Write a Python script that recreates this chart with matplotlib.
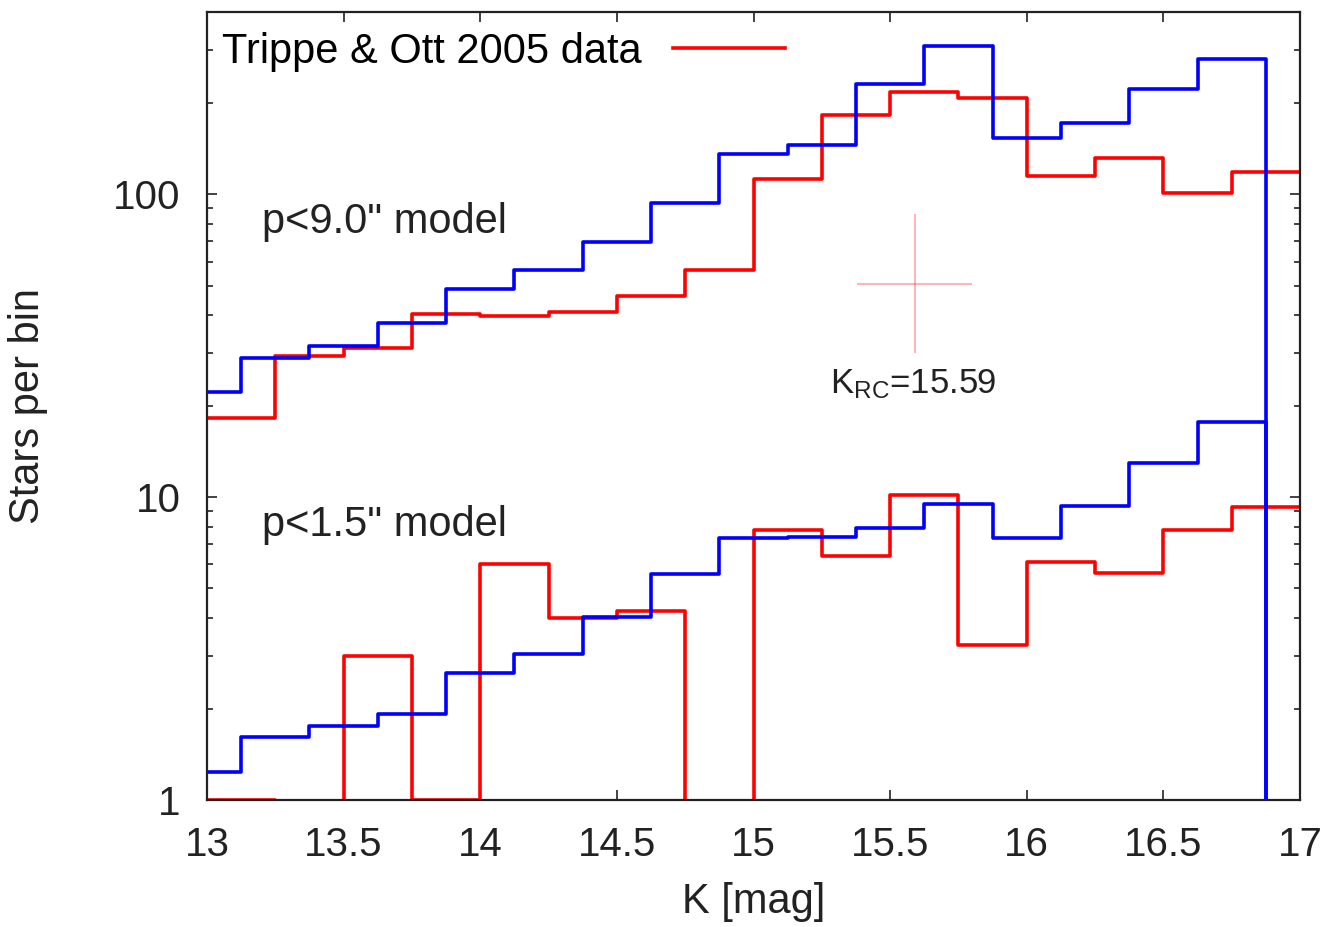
import numpy as np
import matplotlib
matplotlib.use('Agg')
import matplotlib.pyplot as plt
from matplotlib.ticker import LogLocator, NullFormatter, FixedLocator

plt.rcParams['font.family'] = ['Liberation Sans', 'DejaVu Sans']
plt.rcParams['mathtext.fontset'] = 'custom'
plt.rcParams['mathtext.rm'] = 'Liberation Sans'
plt.rcParams['mathtext.it'] = 'Liberation Sans'

# K-band luminosity function, 0.25 mag bins (left edges)
k_model = [12.875, 13.125, 13.375, 13.625, 13.875, 14.125, 14.375, 14.625, 14.875,
           15.125, 15.375, 15.625, 15.875, 16.125, 16.375, 16.625, 16.875]
n_model_9 = [22.3, 28.9, 31.5, 37.7, 48.8, 56.2, 69.4, 93.4, 135.6,
             145.6, 231, 308, 153, 172.6, 223.5, 279.5, 0]
n_model_15 = [1.24, 1.62, 1.75, 1.93, 2.62, 3.03, 4.01, 5.59, 7.33,
              7.40, 7.91, 9.49, 7.33, 9.33, 13.0, 17.7, 0]

k_data = [13.0, 13.25, 13.5, 13.75, 14.0, 14.25, 14.5, 14.75,
          15.0, 15.25, 15.5, 15.75, 16.0, 16.25, 16.5, 16.75]
n_data_9 = [18.3, 29.2, 31.1, 40.4, 39.6, 41.0, 46.1, 56.2,
            112, 182.5, 218, 208, 115, 132, 101, 118.5]
n_data_15 = [1.0, 0, 3.0, 1.0, 6.0, 4.0, 4.2, 0,
             7.8, 6.4, 10.2, 3.25, 6.1, 5.6, 7.8, 9.3]

BIN = 0.25
rc_k, rc_n = 15.59, 50.7
rc_kerr = 0.21
rc_lo, rc_hi = 30.0, 86.0

RED = '#ff0000'
BLUE = '#0000ff'
LW = 2.6
FS = 30


def steps(ax, left, vals, **kw):
    x = list(left) + [left[-1] + BIN]
    y = list(vals) + [vals[-1]]
    return ax.step(x, y, where='post', **kw)


fig = plt.figure(figsize=(13.32, 9.27), dpi=100)
ax = fig.add_axes([0.1554, 0.137, 0.8206, 0.850])
ax.set_yscale('log', nonpositive='clip')

steps(ax, k_data, n_data_9, color=RED, lw=LW, label='Trippe & Ott 2005 data')
steps(ax, k_data, n_data_15, color=RED, lw=LW)
steps(ax, k_model, n_model_9, color=BLUE, lw=LW)
steps(ax, k_model, n_model_15, color=BLUE, lw=LW)

# red clump position
ax.errorbar(rc_k, rc_n, xerr=rc_kerr, yerr=[[rc_n - rc_lo], [rc_hi - rc_n]],
            fmt='none', ecolor=RED, alpha=0.35, elinewidth=1.2, capsize=0)
ax.text(15.28, 22.1, r'K$_{\mathrm{RC}}$=15.59', fontsize=25, color='#222222',
        ha='left', va='baseline')

ax.text(13.2, 81, 'p<9.0" model', fontsize=FS, color='#222222', ha='left', va='center')
ax.text(13.2, 8.1, 'p<1.5" model', fontsize=FS, color='#222222', ha='left', va='center')

ax.set_xlim(13, 17)
ax.set_ylim(1, 400)

xt = np.arange(13, 17.01, 0.5)
ax.set_xticks(xt)
ax.set_xticklabels(['%g' % v for v in xt])
ax.yaxis.set_major_locator(FixedLocator([1, 10, 100]))
ax.set_yticklabels(['1', '10', '100'])
ax.yaxis.set_minor_locator(LogLocator(base=10, subs=np.arange(2, 10)))
ax.yaxis.set_minor_formatter(NullFormatter())

ax.tick_params(which='both', direction='in', top=True, right=True,
               colors='#222222', labelsize=29, width=1.2)
ax.tick_params(which='major', length=7)
ax.tick_params(which='minor', length=4)
ax.tick_params(axis='x', pad=19)
ax.tick_params(axis='y', pad=19)
for s in ax.spines.values():
    s.set_color('#222222')
    s.set_linewidth(1.6)

ax.set_xlabel('K [mag]', fontsize=FS, color='#222222')
ax.set_ylabel('Stars per bin', fontsize=FS, color='#222222')
ax.xaxis.set_label_coords(0.5, -0.104)
ax.yaxis.set_label_coords(-0.1455, 0.5)

ax.legend(loc='upper left', bbox_to_anchor=(0.0137, 0.975), frameon=False,
          markerfirst=False, fontsize=FS, handlelength=2.7, handletextpad=0.75,
          borderpad=0, borderaxespad=0)

fig.savefig('out.png', dpi=100, facecolor='white')
